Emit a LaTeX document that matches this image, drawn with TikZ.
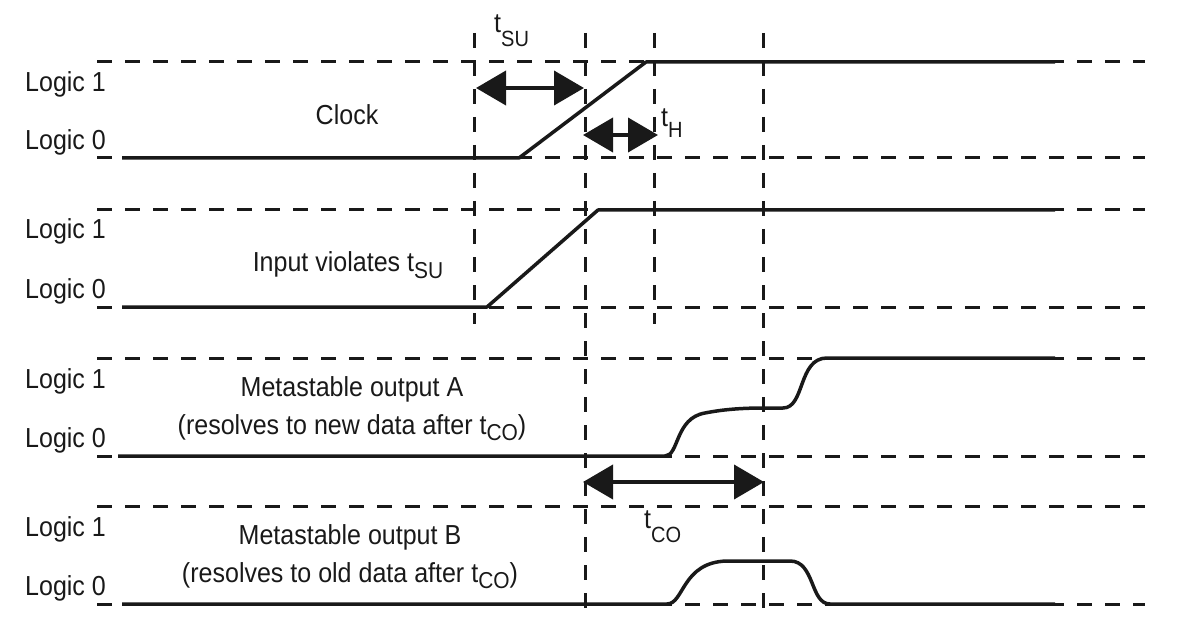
\documentclass[tikz,border=0pt]{standalone}
\usepackage{fontspec}
\setmainfont{Liberation Sans}[FakeStretch=0.91]
\usetikzlibrary{arrows.meta}
\newcommand\tinl[1]{t\raisebox{-6pt}{\fontsize{23}{23}\selectfont #1}}
\newcommand\tlab[1]{t\raisebox{-14pt}{\fontsize{22}{22}\selectfont #1}}
\begin{document}
\begin{tikzpicture}[x=1pt,y=-1pt,
  grid/.style={line width=3pt,dash pattern=on 15pt off 13pt,black!90},
  sig/.style={line width=3.5pt,black!90,line join=round},
  meas/.style={line width=4pt,black!90,{Triangle[length=30pt,width=34pt]}-{Triangle[length=30pt,width=34pt]}},
  lbl/.style={inner sep=0pt,font=\fontsize{27.5}{32}\selectfont,text=black!90}]
\useasboundingbox (0,0) rectangle (1186,639);
% horizontal dashed reference lines
\foreach \y in {62,158,210,307,358,456,506,604}
  \draw[grid] (97,\y) -- (1145,\y);
% vertical dashed lines
\draw[grid] (474,33) -- (474,324);
\draw[grid] (654,33) -- (654,324);
\draw[grid] (585,33) -- (585,608);
\draw[grid] (763,33) -- (763,608);
% signals
\draw[sig] (122,158) -- (519,158) -- (646,62) -- (1055,62);
\draw[sig] (122,307) -- (487,307) -- (598,210) -- (1055,210);
\draw[sig] (118,456) -- (665,456) .. controls (679,456) and (675,418) .. (705,413)
  .. controls (725,409) and (745,408) .. (765,408) -- (783,408)
  .. controls (805,408) and (798,358) .. (827,358) -- (1055,358);
\draw[sig] (122,604) -- (667,604) .. controls (684,604) and (682,562) .. (727,561)
  -- (790,561) .. controls (815,561) and (810,604) .. (830,604) -- (1055,604);
% measurement arrows
\coordinate (su1) at (476,88); \coordinate (su2) at (584,88);
\coordinate (h1) at (583,135); \coordinate (h2) at (658,135);
\coordinate (co1) at (583,482); \coordinate (co2) at (764,482);
\draw[meas] (su1) -- (su2);
\draw[meas] (h1) -- (h2);
\draw[meas] (co1) -- (co2);
% labels
\node[lbl,anchor=base west] (l1a) at (25,92) {Logic 1};
\node[lbl,anchor=base west] (l0a) at (25,150) {Logic 0};
\node[lbl,anchor=base west] (l1b) at (25,239) {Logic 1};
\node[lbl,anchor=base west] (l0b) at (25,298) {Logic 0};
\node[lbl,anchor=base west] (l1c) at (25,388) {Logic 1};
\node[lbl,anchor=base west] (l0c) at (25,447) {Logic 0};
\node[lbl,anchor=base west] (l1d) at (25,536) {Logic 1};
\node[lbl,anchor=base west] (l0d) at (25,595) {Logic 0};
\node[lbl,anchor=base] (clk) at (347,125) {Clock};
\node[lbl,anchor=base] (inp) at (348,272) {Input violates \tinl{SU}};
\node[lbl,anchor=base] (ma1) at (352,396) {Metastable output A};
\node[lbl,anchor=base] (ma2) at (352,434) {(resolves to new data after \tinl{CO})};
\node[lbl,anchor=base] (mb1) at (350,544) {Metastable output B};
\node[lbl,anchor=base] (mb2) at (350,582) {(resolves to old data after \tinl{CO})};
\node[lbl,anchor=base west] (tsu) at (494,33) {\tlab{SU}};
\node[lbl,anchor=base west] (th) at (661,127) {t\raisebox{-11pt}{\fontsize{22}{22}\selectfont H}};
\node[lbl,anchor=base west] (tco) at (644,528) {\tlab{CO}};
\end{tikzpicture}
\end{document}
